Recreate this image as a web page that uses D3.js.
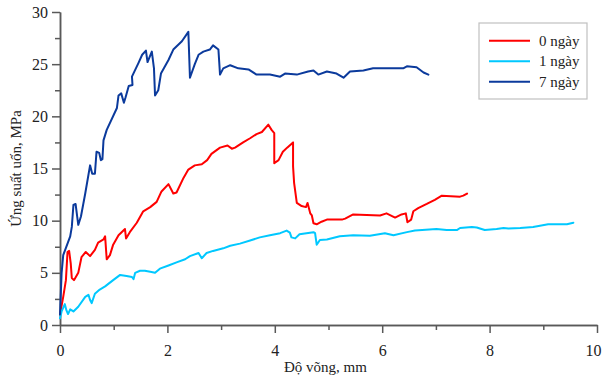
<!DOCTYPE html>
<html>
<head>
<meta charset="utf-8">
<script src="https://cdn.jsdelivr.net/npm/d3@7"></script>
<style>
  body { margin: 0; background: #fff; }
  svg text { font-family: "Liberation Serif", "Times New Roman", serif; }
</style>
</head>
<body>
<div id="chart"></div>
<script>
// deflection (mm) / flexural stress (MPa)
var seriesNames = ["0 ngày", "1 ngày", "7 ngày"];
var seriesColors = ["#ff0000", "#00c8ff", "#0b3a9c"];

var day0 = [
	[0,1.0],[0.06,2.7],[0.11,4.3],[0.14,7.0],[0.17,7.1],[0.20,5.9],[0.22,4.5],[0.26,4.3],
	[0.34,5.0],[0.40,6.5],[0.48,7.0],[0.56,6.6],[0.65,7.2],[0.71,7.9],[0.81,8.2],[0.84,8.5],
	[0.87,6.3],[0.93,6.7],[0.99,7.7],[1.09,8.6],[1.21,9.2],[1.23,8.3],[1.30,8.9],[1.43,9.8],
	[1.55,10.9],[1.68,11.3],[1.80,11.8],[1.89,12.8],[2.02,13.5],[2.11,12.6],[2.17,12.7],
	[2.30,14.1],[2.39,14.9],[2.51,15.3],[2.64,15.4],[2.74,15.8],[2.82,16.4],[2.98,17.0],
	[3.12,17.2],[3.20,16.9],[3.26,17.0],[3.41,17.5],[3.54,17.9],[3.66,18.3],[3.76,18.5],
	[3.88,19.2],[3.94,18.7],[3.99,18.4],[3.99,15.5],[4.07,15.8],[4.15,16.6],[4.23,17.0],
	[4.34,17.5],[4.34,15.2],[4.36,13.6],[4.41,11.7],[4.50,11.4],[4.58,11.3],[4.61,11.7],
	[4.66,10.7],[4.69,10.5],[4.72,9.75],[4.78,9.65],[4.87,9.9],[4.97,10.1],[5.25,10.1],
	[5.31,10.2],[5.46,10.6],[5.96,10.5],[6.08,10.7],[6.24,10.3],[6.36,10.6],[6.44,10.7],
	[6.47,9.85],[6.54,10.1],[6.58,10.9],[6.67,11.2],[6.83,11.6],[6.98,12.0],[7.11,12.4],
	[7.45,12.3],[7.51,12.4],[7.58,12.6]
];

var day1 = [
	[0,0.64],[0.03,1.3],[0.09,2.0],[0.12,1.4],[0.15,1.05],[0.19,1.5],[0.25,1.3],[0.34,1.75],
	[0.47,2.7],[0.53,2.9],[0.56,2.4],[0.59,2.1],[0.65,3.0],[0.74,3.4],[0.84,3.7],[0.99,4.3],
	[1.12,4.8],[1.24,4.7],[1.34,4.6],[1.37,4.4],[1.40,5.0],[1.49,5.2],[1.58,5.2],[1.68,5.1],
	[1.77,5.0],[1.86,5.4],[2.02,5.7],[2.17,6.0],[2.33,6.3],[2.42,6.6],[2.58,6.9],[2.64,6.4],
	[2.73,6.9],[2.85,7.1],[3.04,7.35],[3.17,7.6],[3.35,7.8],[3.54,8.1],[3.72,8.4],[3.91,8.6],
	[4.10,8.8],[4.22,9.05],[4.28,8.85],[4.31,8.4],[4.38,8.3],[4.46,8.7],[4.59,8.8],[4.72,8.9],
	[4.75,8.8],[4.78,7.7],[4.84,8.15],[4.97,8.2],[5.21,8.5],[5.46,8.6],[5.77,8.55],[6.05,8.8],
	[6.21,8.6],[6.46,8.9],[6.61,9.05],[7.01,9.2],[7.20,9.1],[7.39,9.1],[7.45,9.3],[7.67,9.4],
	[7.76,9.35],[7.91,9.1],[8.13,9.2],[8.26,9.3],[8.35,9.25],[8.57,9.3],[8.81,9.4],[9.09,9.65],
	[9.44,9.65],[9.56,9.8]
];

var day7 = [
	[0,1.0],[0.03,5.0],[0.06,6.7],[0.19,8.5],[0.22,9.4],[0.25,11.5],[0.29,11.6],[0.34,9.6],
	[0.39,10.4],[0.47,12.6],[0.56,15.3],[0.60,14.5],[0.65,14.5],[0.68,16.6],[0.73,16.5],
	[0.76,15.8],[0.79,15.9],[0.81,17.7],[0.87,18.7],[1.06,20.8],[1.09,22.0],[1.14,22.2],
	[1.19,21.3],[1.22,21.8],[1.28,22.9],[1.35,23.0],[1.34,23.8],[1.46,25.1],[1.53,25.9],
	[1.60,26.3],[1.63,25.2],[1.71,26.2],[1.75,24.6],[1.77,22.0],[1.83,22.5],[1.88,24.1],
	[2.02,25.4],[2.11,26.4],[2.27,27.2],[2.39,28.1],[2.42,23.7],[2.51,25.0],[2.58,25.9],
	[2.67,26.2],[2.79,26.4],[2.85,26.8],[2.95,26.4],[2.98,24.0],[3.04,24.6],[3.17,24.9],
	[3.32,24.6],[3.51,24.5],[3.66,24.0],[3.91,24.0],[4.10,23.8],[4.19,24.1],[4.41,24.0],
	[4.62,24.3],[4.72,24.4],[4.81,24.0],[4.97,24.3],[5.15,24.1],[5.28,23.7],[5.40,24.3],
	[5.65,24.4],[5.83,24.6],[6.39,24.6],[6.46,24.8],[6.64,24.7],[6.77,24.2],[6.86,24.0]
];

var xMajorTicks = [0, 2, 4, 6, 8, 10];
var xMinorTicks = [1, 3, 5, 7, 9];
var yMajorTicks = [0, 5, 10, 15, 20, 25, 30];
var yMinorTicks = [2.5, 7.5, 12.5, 17.5, 22.5, 27.5];

var xTitle = "Độ võng, mm";
var yTitle = "Ứng suất uốn, MPa";

var elWidth = 602, elHeight = 379;
var margin = {top: 12, right: 5, bottom: 54, left: 60};
var width = elWidth - margin.left - margin.right;
var height = elHeight - margin.top - margin.bottom;

var svg = d3.select("#chart").append("svg")
	.attr("width", elWidth)
	.attr("height", elHeight);
var g = svg.append("g").attr("transform", "translate(" + margin.left + "," + margin.top + ")");

var x = d3.scaleLinear().domain([0, 10]).range([0, width]);
var y = d3.scaleLinear().domain([0, 30]).range([height, 0]);

var axisColor = "#595959";

function styleAxis(sel) {
	sel.select(".domain").attr("stroke", axisColor).attr("stroke-width", 1.5);
	sel.selectAll(".tick line").attr("stroke", axisColor).attr("stroke-width", 1.5);
	sel.selectAll(".tick text").attr("fill", "#222").attr("font-size", 16)
		.attr("font-family", "Liberation Serif");
}

// minor ticks first, then major ones with labels
g.append("g")
	.attr("transform", "translate(0," + height + ")")
	.call(d3.axisBottom(x).tickValues(xMinorTicks).tickSize(5).tickSizeOuter(0).tickFormat(""))
	.call(styleAxis);
var xAxisG = g.append("g")
	.attr("transform", "translate(0," + height + ")")
	.call(d3.axisBottom(x).tickValues(xMajorTicks).tickSize(8).tickSizeOuter(0).tickPadding(12))
	.call(styleAxis);
// keep the last label inside the page
xAxisG.selectAll(".tick text").filter(function(d) { return d === 10; }).attr("dx", -4);

g.append("g")
	.call(d3.axisLeft(y).tickValues(yMinorTicks).tickSize(5).tickSizeOuter(0).tickFormat(""))
	.call(styleAxis);
g.append("g")
	.call(d3.axisLeft(y).tickValues(yMajorTicks).tickSize(8).tickSizeOuter(0).tickPadding(4))
	.call(styleAxis);

var line = d3.line()
	.x(function(d) { return x(d[0]); })
	.y(function(d) { return y(d[1]); });

[day0, day1, day7].forEach(function(data, i) {
	g.append("path")
		.datum(data)
		.attr("fill", "none")
		.attr("stroke", seriesColors[i])
		.attr("stroke-width", 2)
		.attr("stroke-linejoin", "round")
		.attr("stroke-linecap", "round")
		.attr("d", line);
});

// axis titles
svg.append("text")
	.attr("x", margin.left + width / 2 - 3)
	.attr("y", 372)
	.attr("text-anchor", "middle")
	.attr("font-size", 15)
	.attr("fill", "#222")
	.text(xTitle);

svg.append("text")
	.attr("transform", "translate(21," + (margin.top + height / 2) + ") rotate(-90)")
	.attr("text-anchor", "middle")
	.attr("font-size", 15)
	.attr("fill", "#222")
	.text(yTitle);

// legend
var legend = svg.append("g").attr("transform", "translate(479,23)");
legend.append("rect")
	.attr("width", 108).attr("height", 76)
	.attr("fill", "#fff")
	.attr("stroke", "#c0c0c0")
	.attr("stroke-width", 1.2);

seriesNames.forEach(function(name, i) {
	var row = legend.append("g").attr("transform", "translate(0," + (17.7 + i * 20.5) + ")");
	row.append("line")
		.attr("x1", 10).attr("x2", 51)
		.attr("stroke", seriesColors[i])
		.attr("stroke-width", 2);
	row.append("text")
		.attr("x", 60).attr("y", 5)
		.attr("font-size", 15)
		.attr("fill", "#222")
		.text(name);
});
</script>
</body>
</html>
